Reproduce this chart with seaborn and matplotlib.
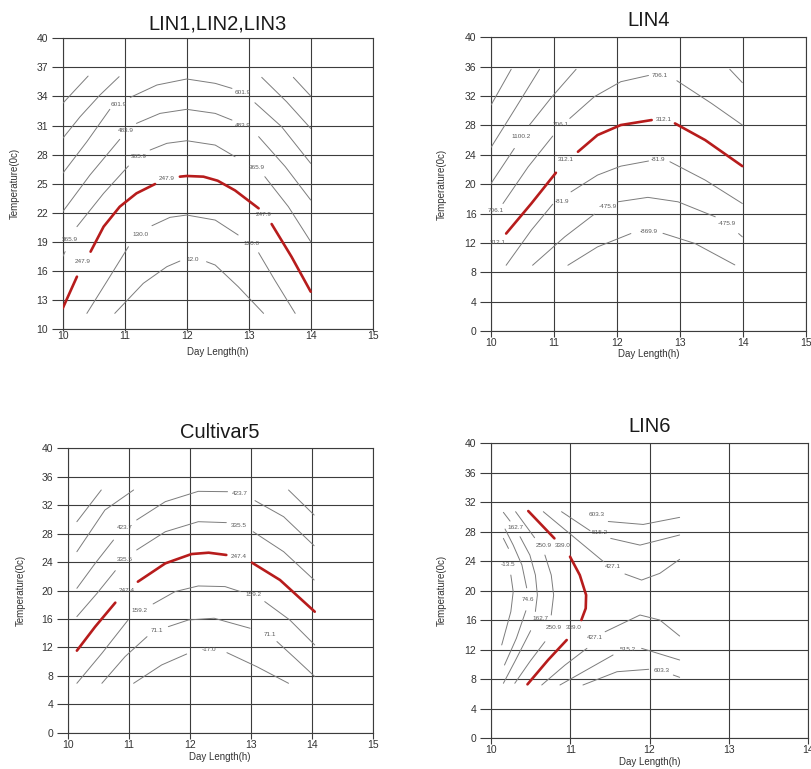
import matplotlib
matplotlib.use("Agg")
import matplotlib.pyplot as plt
import seaborn as sns
import numpy as np

# ---------------- data ----------------
titles = ["LIN1,LIN2,LIN3", "LIN4", "Cultivar5", "LIN6"]
x_ticks_a = [10, 11, 12, 13, 14, 15]
x_ticks_b = [10, 11, 12, 13, 14]
y_ticks_lin123 = [10, 13, 16, 19, 22, 25, 28, 31, 34, 37, 40]
y_ticks_other = [0, 4, 8, 12, 16, 20, 24, 28, 32, 36, 40]

# LIN1,LIN2,LIN3 contour segments (grey), red optimum contour, labels
lin123_grey = [
    ([10.0, 10.2, 10.41], [33.28, 34.66, 36.1]),
    ([13.72, 14.0], [35.97, 34.04]),
    ([10.0, 10.28, 10.60, 10.91], [29.67, 31.9, 34.14, 36.04]),
    ([13.21, 13.61, 14.0], [35.97, 33.46, 30.7]),
    ([10.0, 10.39, 10.76], [26.06, 29.33, 32.67]),
    ([11.09, 11.52, 12.0, 12.46, 12.73], [33.9, 35.18, 35.8, 35.35, 34.83]),
    ([13.10, 13.53, 14.0], [33.35, 30.88, 27.09]),
    ([10.0, 10.44, 10.92], [22.1, 25.89, 29.57]),
    ([11.19, 11.57, 12.0, 12.46, 12.73], [31.22, 32.25, 32.67, 32.25, 31.56]),
    ([13.16, 13.59, 14.0], [29.85, 26.75, 23.31]),
    ([10.0, 10.04], [17.46, 17.98]),
    ([10.23, 10.66, 11.06], [20.56, 24.0, 26.82]),
    ([11.41, 11.68, 12.0, 12.46, 12.78], [28.47, 29.16, 29.43, 28.98, 27.78]),
    ([13.26, 13.64, 14.0], [25.72, 22.62, 19.01]),
    ([10.39, 10.71, 11.06], [11.61, 14.88, 18.49]),
    ([11.44, 11.73, 12.0, 12.46, 12.83], [20.66, 21.52, 21.76, 21.24, 19.7]),
    ([13.16, 13.42, 13.75], [17.87, 15.05, 11.61]),
    ([10.84, 11.30, 11.68, 11.89], [11.61, 14.71, 16.43, 17.01]),
    ([12.32, 12.46, 12.83, 13.24], [16.94, 16.6, 14.37, 11.61]),
]
lin123_red = [
    ([10.0, 10.23], [12.13, 15.4]),
    ([10.45, 10.66, 10.92, 11.19, 11.49], [17.98, 20.56, 22.62, 24.0, 24.96]),
    ([11.89, 12.0, 12.27, 12.5, 12.78, 13.16], [25.72, 25.79, 25.72, 25.3, 24.3, 22.45]),
    ([13.37, 13.69, 14.0], [20.83, 17.46, 13.85]),
]
lin123_labels = [
    ("601.9", 10.90, 33.18), ("601.9", 12.91, 34.39),
    ("483.9", 11.02, 30.46), ("483.9", 12.91, 31.05),
    ("365.9", 11.23, 27.85), ("365.9", 13.13, 26.62), ("365.9", 10.12, 19.28),
    ("247.9", 10.32, 16.94), ("247.9", 11.68, 25.55), ("247.9", 13.24, 21.86),
    ("130.0", 11.25, 19.8), ("130.0", 13.04, 18.84),
    ("12.0", 12.09, 17.22),
]

# LIN4
lin4_grey = [
    ([10.0, 10.32], [30.77, 35.64]),
    ([10.0, 10.37, 10.77], [25.0, 30.09, 35.64]),
    ([10.0, 10.37], [20.09, 24.86]),
    ([10.61, 10.96, 11.35], [28.05, 31.82, 35.64]),
    ([10.19, 10.59, 10.98], [17.36, 22.36, 26.55]),
    ([11.25, 11.64, 12.06, 12.5], [28.95, 31.91, 33.95, 34.8]),
    ([12.95, 13.50, 13.99], [34.09, 31.0, 28.05]),
    ([13.79, 13.99], [35.64, 33.82]),
    ([10.24, 10.64, 10.98], [8.95, 13.73, 17.27]),
    ([11.27, 11.69, 12.06, 12.5], [18.95, 21.23, 22.45, 23.15]),
    ([12.84, 13.40, 13.99], [23.05, 20.55, 17.36]),
    ([10.66, 11.17, 11.64], [8.95, 12.82, 15.91]),
    ([12.01, 12.49, 12.97, 13.56], [17.59, 18.2, 17.59, 15.55]),
    ([13.93, 13.99], [13.27, 12.82]),
    ([11.22, 11.69, 12.22], [8.95, 11.45, 13.27]),
    ([12.73, 13.24, 13.87], [13.3, 11.91, 9.0]),
]
lin4_red = [
    ([10.24, 10.64, 11.03], [13.27, 17.36, 21.55]),
    ([11.38, 11.69, 12.06, 12.55], [24.41, 26.68, 28.05, 28.73]),
    ([12.92, 13.40, 13.99], [28.27, 26.0, 22.45]),
]
lin4_labels = [
    ("1100.2", 10.47, 26.55),
    ("706.1", 10.08, 16.45), ("706.1", 11.11, 28.1), ("706.1", 12.68, 34.8),
    ("312.1", 10.1, 12.1), ("312.1", 11.19, 23.38), ("312.1", 12.74, 28.8),
    ("-81.9", 11.13, 17.6), ("-81.9", 12.65, 23.4),
    ("-475.9", 11.85, 16.95), ("-475.9", 13.75, 14.7),
    ("-869.9", 12.50, 13.6),
]

# Cultivar5
cv5_grey = [
    ([10.15, 10.55], [29.68, 34.14]),
    ([10.15, 10.61, 11.08], [25.46, 31.32, 34.14]),
    ([10.15, 10.45, 10.75], [20.31, 23.82, 27.1]),
    ([11.13, 11.60, 12.14, 12.62], [29.92, 32.5, 33.95, 33.9]),
    ([13.07, 13.54, 14.04], [32.64, 30.38, 26.3]),
    ([13.62, 14.04], [34.14, 30.62]),
    ([10.15, 10.48, 10.78], [16.33, 19.6, 22.79]),
    ([11.13, 11.60, 12.14, 12.6], [25.7, 28.27, 29.68, 29.55]),
    ([13.04, 13.54, 14.04], [28.27, 25.46, 21.48]),
    ([10.15, 10.56, 10.99], [6.95, 11.17, 15.86]),
    ([11.40, 11.76, 12.14, 12.58, 12.83], [18.11, 19.85, 20.64, 20.55, 19.85]),
    ([13.23, 13.64, 14.05], [18.44, 15.86, 12.34]),
    ([10.56, 10.94, 11.30], [6.95, 10.7, 13.51]),
    ([11.65, 11.98, 12.4, 12.99], [14.92, 15.86, 16.1, 14.69]),
    ([13.43, 13.75, 14.05], [12.82, 10.3, 7.9]),
    ([11.08, 11.54, 11.95], [6.95, 9.53, 11.07]),
    ([12.61, 13.10, 13.62], [11.26, 9.29, 6.95]),
]
cv5_red = [
    ([10.15, 10.45, 10.78], [11.54, 14.91, 18.29]),
    ([11.15, 11.60, 12.03, 12.31, 12.6], [21.24, 23.82, 25.13, 25.32, 25.0]),
    ([13.02, 13.48, 14.05], [23.92, 21.48, 17.02]),
]
cv5_labels = [
    ("423.7", 10.93, 28.84), ("423.7", 12.82, 33.62),
    ("335.5", 10.94, 24.38), ("335.5", 12.81, 29.21),
    ("247.4", 10.96, 20.07), ("247.4", 12.81, 24.85),
    ("159.2", 11.17, 17.12), ("159.2", 13.04, 19.38),
    ("71.1", 11.47, 14.36), ("71.1", 13.31, 13.76),
    ("-17.0", 12.31, 11.73),
]

# LIN6
lin6_grey = [
    ([10.156, 10.22], [27.11, 25.75]),
    ([10.25, 10.28, 10.25, 10.135], [22.14, 19.88, 17.17, 12.66]),
    ([10.177, 10.28, 10.39, 10.45], [28.38, 26.2, 23.5, 20.4]),
    ([10.44, 10.32, 10.17], [17.3, 13.56, 9.94]),
    ([10.156, 10.24], [30.64, 29.46]),
    ([10.366, 10.49, 10.56, 10.585, 10.56], [27.34, 24.85, 22.14, 19.43, 17.2]),
    ([10.50, 10.30, 10.156], [14.6, 10.4, 7.46]),
    ([10.31, 10.55], [30.73, 27.2]),
    ([10.68, 10.76, 10.79, 10.76], [24.85, 22.14, 19.43, 16.72]),
    ([10.68, 10.49, 10.30], [13.1, 10.4, 7.46]),
    ([10.66, 11.04, 11.42], [30.73, 27.34, 23.95]),
    ([11.69, 11.90, 12.13, 12.38], [22.28, 21.46, 22.37, 24.27]),
    ([10.89, 11.25], [30.73, 28.15]),
    ([11.51, 11.88, 12.38], [27.11, 26.2, 27.57]),
    ([11.48, 11.92, 12.38], [29.4, 29.0, 29.96]),
    ([10.64, 10.93, 11.21], [7.23, 9.9, 12.2]),
    ([11.44, 11.88, 12.13, 12.38], [14.45, 16.72, 16.04, 13.87]),
    ([10.87, 11.54], [7.23, 11.3]),
    ([11.90, 12.38], [12.2, 10.62]),
    ([11.16, 11.59, 11.99], [7.23, 9.03, 9.36]),
    ([12.30, 12.38], [8.58, 8.27]),
]
lin6_red = [
    ([10.47, 10.80], [30.82, 27.11]),
    ([10.997, 11.12, 11.20, 11.195, 11.14], [24.63, 22.14, 19.43, 17.62, 16.04]),
    ([10.955, 10.72, 10.46], [13.33, 10.62, 7.32]),
]
lin6_labels = [
    ("162.7", 10.31, 28.56), ("-13.5", 10.22, 23.6), ("74.6", 10.47, 18.85),
    ("162.7", 10.63, 16.27), ("250.9", 10.66, 26.2), ("339.0", 10.90, 26.2),
    ("250.9", 10.79, 15.0), ("339.0", 11.05, 15.0),
    ("427.1", 11.54, 23.36), ("515.2", 11.37, 27.97), ("603.3", 11.33, 30.41),
    ("427.1", 11.31, 13.69), ("515.2", 11.73, 12.07), ("603.3", 12.15, 9.26),
]

# ---------------- drawing ----------------
sns.set_theme(style="white")
plt.rcParams["font.family"] = ["Liberation Sans", "DejaVu Sans"]

GRID = "#3c3c3c"
GREY = "#7c7c7c"
RED = "#b71c1c"
LBL = "#5a5a5a"

fig = plt.figure(figsize=(8.12, 7.69), dpi=100)
positions = [
    [0.0772, 0.5722, 0.3818, 0.3780],
    [0.6047, 0.5696, 0.3879, 0.3819],
    [0.0834, 0.0472, 0.3756, 0.3698],
    [0.6047, 0.0399, 0.3904, 0.3836],
]
panels = [
    (lin123_grey, lin123_red, lin123_labels, (10, 15), x_ticks_a, (10, 40), y_ticks_lin123),
    (lin4_grey, lin4_red, lin4_labels, (10, 15), x_ticks_a, (0, 40), y_ticks_other),
    (cv5_grey, cv5_red, cv5_labels, (10, 15), x_ticks_a, (0, 40), y_ticks_other),
    (lin6_grey, lin6_red, lin6_labels, (10, 14), x_ticks_b, (0, 40), y_ticks_other),
]
title_pads = [6.5, 8, 7.5, 8]
xtick_len = [1.5, 4, 4, 4]
xtick_pads = [0.3, 1.0, 1.0, 1.0]
xlabel_y = [-0.078, -0.08, -0.084, -0.08]

for i, (grey, red, labels, xl, xt, yl, yt) in enumerate(panels):
    ax = fig.add_axes(positions[i])
    for xs, ys in grey:
        sns.lineplot(x=xs, y=ys, sort=False, estimator=None, color=GREY,
                     lw=0.7, ax=ax, zorder=3)
    for xs, ys in red:
        sns.lineplot(x=xs, y=ys, sort=False, estimator=None, color=RED,
                     lw=1.9, ax=ax, zorder=4)
    for txt, lx, ly in labels:
        ax.text(lx, ly, txt, fontsize=4.6, color=LBL, ha="center",
                va="center", zorder=5)
    ax.set_xlim(*xl)
    ax.set_ylim(*yl)
    ax.set_xticks(xt)
    ax.set_yticks(yt)
    ax.grid(True, color=GRID, lw=0.8)
    ax.set_axisbelow(True)
    for sp in ax.spines.values():
        sp.set_color(GRID)
        sp.set_linewidth(0.8)
        sp.set_visible(True)
    ax.tick_params(axis="y", length=8, width=0.8, color=GRID, pad=2.5,
                   labelsize=7.5, labelcolor="#333333", left=True)
    ax.tick_params(axis="x", length=xtick_len[i], width=0.8, color=GRID,
                   pad=xtick_pads[i], labelsize=7.5, labelcolor="#333333",
                   bottom=True)
    ax.set_title(titles[i], fontsize=14.5, pad=title_pads[i], color="#1a1a1a")
    ax.set_xlabel("Day Length(h)", fontsize=7, color="#333333")
    ax.set_ylabel("Temperature(0c)", fontsize=7, color="#333333")
    ax.xaxis.set_label_coords(0.5, xlabel_y[i])
    ax.xaxis.label.set_va("center")
    ax.yaxis.set_label_coords(-0.155, 0.5)
    ax.yaxis.label.set_va("center")

fig.savefig("out.png", dpi=100)
